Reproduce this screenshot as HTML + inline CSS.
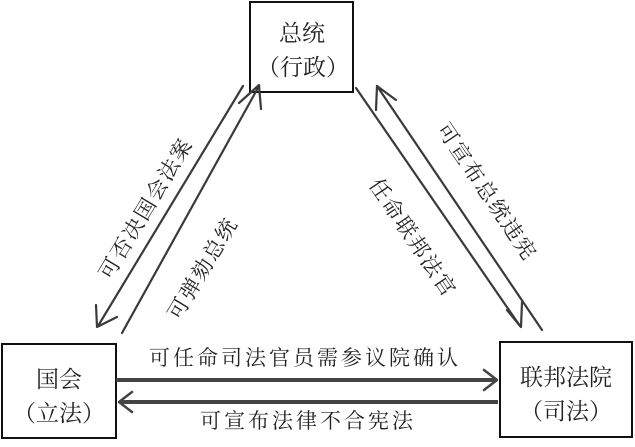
<!DOCTYPE html>
<html><head><meta charset="utf-8"><style>
html,body{margin:0;padding:0;background:#fff;}
svg{display:block;}
text{font-family:"Liberation Serif","Noto Serif CJK SC","Noto Sans CJK SC",serif;fill:#222;}
</style></head><body>
<svg width="635" height="447" viewBox="0 0 635 447" xmlns="http://www.w3.org/2000/svg">
<g fill="none" stroke="#111" stroke-width="2">
<rect x="250" y="2" width="103" height="90"/>
<rect x="2" y="344" width="114" height="94"/>
<rect x="500" y="342" width="132" height="95"/>
</g>
<g fill="none" stroke="#3a3a3a" stroke-width="2.2" stroke-linecap="round" stroke-linejoin="round">
<line x1="243" y1="86" x2="98" y2="326"/>
<polyline points="96,305 97,327 117,317"/>
<line x1="122" y1="333" x2="259" y2="86"/>
<polyline points="239,103 259,85 261,109"/>
<line x1="356" y1="88" x2="520" y2="326"/>
<polyline points="507,310 521,327 522,302"/>
<line x1="542" y1="330" x2="377" y2="86"/>
<polyline points="376,110 377,86 396,100"/>
</g>
<g fill="none" stroke="#444" stroke-width="4">
<line x1="116" y1="380" x2="496" y2="380"/>
<line x1="120" y1="402" x2="498" y2="402"/>
</g>
<g fill="none" stroke="#444" stroke-width="2.5" stroke-linecap="round" stroke-linejoin="round">
<polyline points="484,370 497,380 484,390"/>
<polyline points="132,392 119,402 132,412"/>
</g>
<g font-size="23" text-anchor="middle">
<text x="302" y="41">总统</text>
<text x="303" y="75">（行政）</text>
<text x="59" y="387">国会</text>
<text x="59" y="421">（立法）</text>
<text x="566" y="385">联邦法院</text>
<text x="566" y="419">（司法）</text>
</g>
<g font-size="21" text-anchor="middle" letter-spacing="3">
<text x="305" y="365">可任命司法官员需参议院确认</text>
<text x="308" y="428">可宣布法律不合宪法</text>
</g>
<g font-size="21" text-anchor="middle" letter-spacing="2">
<text transform="translate(152,212) rotate(-59)">可否决国会法案</text>
<text transform="translate(209,272) rotate(-59)">可弹劾总统</text>
<text transform="translate(407,242) rotate(56)">任命联邦法官</text>
<text transform="translate(481,196) rotate(56)">可宣布总统违宪</text>
</g>
</svg>
</body></html>
